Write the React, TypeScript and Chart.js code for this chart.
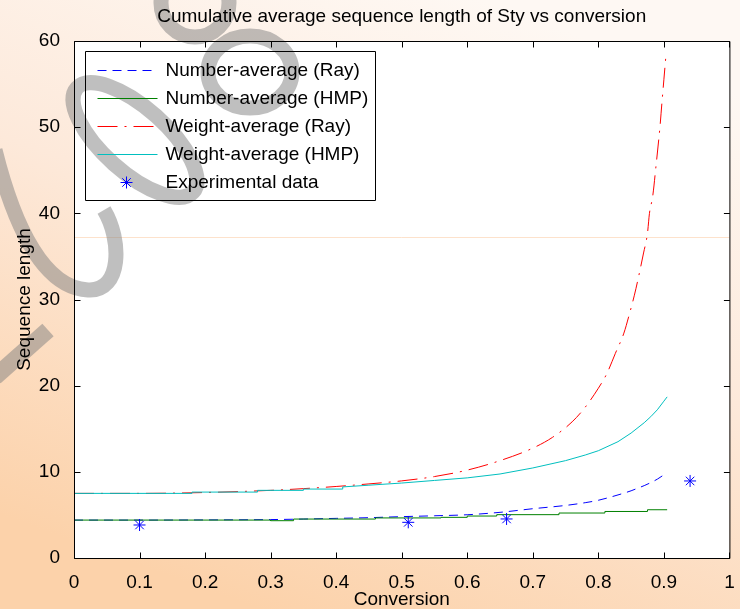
import React, { useEffect, useRef } from "react";
import { Chart, registerables } from "chart.js";

Chart.register(...registerables);

const FONT = "'Liberation Sans', Arial, Helvetica, sans-serif";
const FS = 19;

const chartTitle = "Cumulative average sequence length of Sty vs conversion";
const xAxisTitle = "Conversion";
const yAxisTitle = "Sequence length";

const xTicks = [0, 0.1, 0.2, 0.3, 0.4, 0.5, 0.6, 0.7, 0.8, 0.9, 1];
const xTickLabels = ["0", "0.1", "0.2", "0.3", "0.4", "0.5", "0.6", "0.7", "0.8", "0.9", "1"];
const yTicks = [0, 10, 20, 30, 40, 50, 60];
const yTickLabels = ["0", "10", "20", "30", "40", "50", "60"];

// Number-average (Ray)
const numRayX = [0, 0.1, 0.2, 0.3, 0.35, 0.4, 0.45, 0.5, 0.55, 0.6, 0.65, 0.7, 0.75, 0.78, 0.8, 0.82, 0.84, 0.85, 0.86, 0.87, 0.88, 0.89, 0.9, 0.905];
const numRayY = [4.4, 4.4, 4.42, 4.46, 4.52, 4.6, 4.68, 4.8, 4.9, 5.02, 5.3, 5.72, 6.1, 6.42, 6.7, 7.1, 7.55, 7.8, 8.1, 8.4, 8.75, 9.15, 9.65, 9.9];

// Number-average (HMP)
const numHmpX = [0, 0.3, 0.3, 0.335, 0.335, 0.46, 0.46, 0.56, 0.56, 0.6, 0.6, 0.645, 0.645, 0.74, 0.74, 0.81, 0.81, 0.875, 0.875, 0.905];
const numHmpY = [4.4, 4.4, 4.33, 4.33, 4.52, 4.52, 4.65, 4.65, 4.72, 4.72, 4.87, 4.87, 5.03, 5.03, 5.22, 5.22, 5.4, 5.4, 5.6, 5.6];

// Weight-average (Ray)
const wtRayX = [0, 0.1, 0.2, 0.3, 0.35, 0.4, 0.45, 0.5, 0.55, 0.6, 0.65, 0.7, 0.73, 0.76, 0.78, 0.8, 0.813, 0.826, 0.839, 0.847, 0.855, 0.861, 0.869, 0.875, 0.878, 0.883, 0.888, 0.891, 0.894, 0.897, 0.9, 0.902, 0.903];
const wtRayY = [7.5, 7.5, 7.6, 7.85, 8.05, 8.3, 8.6, 8.95, 9.45, 10.2, 11.3, 12.75, 14.0, 15.8, 17.5, 19.7, 21.4, 23.75, 26.1, 28.2, 30.5, 32.5, 35.4, 37.7, 40.0, 42.0, 45.5, 47.7, 50.0, 52.8, 55.5, 57.3, 58.2];

// Weight-average (HMP)
const wtHmpX = [0, 0.18, 0.18, 0.28, 0.28, 0.35, 0.35, 0.41, 0.41, 0.45, 0.5, 0.55, 0.6, 0.65, 0.7, 0.75, 0.78, 0.8, 0.83, 0.85, 0.87, 0.88, 0.89, 0.9, 0.905];
const wtHmpY = [7.5, 7.5, 7.65, 7.65, 7.85, 7.85, 8.0, 8.0, 8.25, 8.45, 8.7, 9.0, 9.3, 9.75, 10.45, 11.3, 11.95, 12.45, 13.5, 14.5, 15.7, 16.4, 17.2, 18.2, 18.7];

// Experimental data
const expX = [0.1, 0.51, 0.66, 0.94];
const expY = [3.83, 4.14, 4.53, 8.94];

// faint horizontal artefact line in the source picture
const artefactY = 37.3;

const pts = (xs: number[], ys: number[]) => xs.map((x, i) => ({ x, y: ys[i] }));

function drawWatermark(ctx: CanvasRenderingContext2D) {
  ctx.save();
  ctx.strokeStyle = "rgba(128,128,128,0.5)";
  ctx.lineWidth = 15;
  ctx.lineCap = "butt";
  ctx.beginPath();
  ctx.arc(195, 3, 34, 0, Math.PI * 2);
  ctx.stroke();
  ctx.beginPath();
  ctx.ellipse(250, 72, 42, 36, 0, 0, Math.PI * 2);
  ctx.stroke();
  ctx.beginPath();
  ctx.ellipse(135, 140, 78, 32, 0.73, 0, Math.PI * 2);
  ctx.stroke();
  ctx.beginPath();
  ctx.moveTo(-5, 150);
  ctx.bezierCurveTo(15, 230, 45, 288, 88, 290);
  ctx.bezierCurveTo(122, 292, 122, 240, 104, 210);
  ctx.stroke();
  ctx.lineWidth = 17;
  ctx.beginPath();
  ctx.moveTo(-5, 377);
  ctx.lineTo(48, 330);
  ctx.stroke();
  ctx.restore();
}

const framePlugin = {
  id: "matlabFrame",
  beforeDraw(chart: any) {
    const { ctx, width, height, chartArea: a } = chart;
    ctx.save();
    const g = ctx.createLinearGradient(width * 0.65, 0, width * 0.35, height);
    g.addColorStop(0, "#fef8f3");
    g.addColorStop(0.45, "#fde9da");
    g.addColorStop(1, "#fcd2aa");
    ctx.fillStyle = g;
    ctx.fillRect(0, 0, width, height);
    ctx.fillStyle = "#ffffff";
    ctx.fillRect(a.left, a.top, a.right - a.left, a.bottom - a.top);
    const yl = Math.round(chart.scales.y.getPixelForValue(artefactY)) + 0.5;
    ctx.strokeStyle = "#fde2cc";
    ctx.lineWidth = 1;
    ctx.beginPath();
    ctx.moveTo(a.left, yl);
    ctx.lineTo(a.right, yl);
    ctx.stroke();
    drawWatermark(ctx);
    ctx.restore();
  },
  afterDraw(chart: any) {
    const { ctx, chartArea: a } = chart;
    const xs = chart.scales.x;
    const ys = chart.scales.y;
    ctx.save();
    ctx.strokeStyle = "#000";
    ctx.lineWidth = 1;
    const L = a.left + 0.5, R = a.right + 0.5, T = a.top + 0.5, B = a.bottom + 0.5;
    ctx.beginPath();
    ctx.rect(L, T, R - L, B - T);
    const tl = 6;
    xTicks.forEach((v) => {
      const p = Math.round(xs.getPixelForValue(v)) + 0.5;
      ctx.moveTo(p, B);
      ctx.lineTo(p, B - tl);
      ctx.moveTo(p, T);
      ctx.lineTo(p, T + tl);
    });
    yTicks.forEach((v) => {
      const p = Math.round(ys.getPixelForValue(v)) + 0.5;
      ctx.moveTo(L, p);
      ctx.lineTo(L + tl, p);
      ctx.moveTo(R, p);
      ctx.lineTo(R - tl, p);
    });
    ctx.stroke();

    // legend box
    const bx = a.left + 11.5, by = a.top + 10.5, bw = 290, bh = 149;
    ctx.beginPath();
    ctx.rect(bx, by, bw, bh);
    ctx.stroke();
    ctx.font = `${FS}px ${FONT}`;
    ctx.textBaseline = "middle";
    ctx.textAlign = "left";
    chart.data.datasets.forEach((ds: any, i: number) => {
      const cy = Math.round(by + 18 + i * 28.2) + 0.5;
      ctx.save();
      ctx.strokeStyle = ds.borderColor;
      ctx.lineWidth = 1;
      if (ds.showLine === false) {
        const cx = bx + 41;
        const r = 6;
        ctx.beginPath();
        ctx.moveTo(cx - r, cy); ctx.lineTo(cx + r, cy);
        ctx.moveTo(cx, cy - r); ctx.lineTo(cx, cy + r);
        const d = r * Math.SQRT1_2;
        ctx.moveTo(cx - d, cy - d); ctx.lineTo(cx + d, cy + d);
        ctx.moveTo(cx - d, cy + d); ctx.lineTo(cx + d, cy - d);
        ctx.stroke();
      } else {
        ctx.setLineDash(ds.borderDash || []);
        ctx.beginPath();
        ctx.moveTo(bx + 12, cy);
        ctx.lineTo(bx + 72, cy);
        ctx.stroke();
      }
      ctx.restore();
      ctx.fillStyle = "#000";
      ctx.fillText(ds.label, bx + 80, cy);
    });
    ctx.restore();
  },
};

export default function App() {
  const ref = useRef<HTMLCanvasElement | null>(null);
  useEffect(() => {
    if (!ref.current) return;
    const font = { family: FONT, size: FS, weight: "normal" as const };
    const chart = new Chart(ref.current, {
      type: "line",
      data: {
        datasets: [
          {
            label: "Number-average (Ray)",
            data: pts(numRayX, numRayY),
            borderColor: "#0000ff",
            borderDash: [9, 6],
            borderWidth: 1,
            pointRadius: 0,
            cubicInterpolationMode: "monotone",
            order: 5,
          },
          {
            label: "Number-average (HMP)",
            data: pts(numHmpX, numHmpY),
            borderColor: "#008000",
            borderWidth: 1,
            pointRadius: 0,
            tension: 0,
            order: 4,
          },
          {
            label: "Weight-average (Ray)",
            data: pts(wtRayX, wtRayY),
            borderColor: "#ff0000",
            borderDash: [20, 7, 2, 7],
            borderWidth: 1,
            pointRadius: 0,
            cubicInterpolationMode: "monotone",
            order: 3,
          },
          {
            label: "Weight-average (HMP)",
            data: pts(wtHmpX, wtHmpY),
            borderColor: "#00bfbf",
            borderWidth: 1,
            pointRadius: 0,
            tension: 0,
            order: 2,
          },
          {
            label: "Experimental data",
            data: pts(expX, expY),
            borderColor: "#0000ff",
            backgroundColor: "#0000ff",
            showLine: false,
            pointStyle: "star",
            pointRadius: 6,
            pointBorderWidth: 1,
            order: 1,
          },
        ],
      },
      options: {
        animation: false,
        responsive: false,
        maintainAspectRatio: false,
        devicePixelRatio: 1,
        layout: { padding: { left: 0, right: 9, top: 0, bottom: 0 } },
        plugins: {
          legend: { display: false },
          tooltip: { enabled: false },
          title: {
            display: true,
            fullSize: false,
            text: chartTitle,
            color: "#000",
            font,
            padding: { top: 5.6, bottom: 12.6 },
          },
        },
        scales: {
          x: {
            type: "linear",
            position: "bottom",
            min: 0,
            max: 1,
            grid: { display: false },
            border: { display: false },
            ticks: {
              stepSize: 0.1,
              autoSkip: false,
              maxRotation: 0,
              padding: 5.3,
              color: "#000",
              font,
              callback: (v: any) => {
                const i = xTicks.findIndex((t) => Math.abs(t - Number(v)) < 1e-9);
                return i >= 0 ? xTickLabels[i] : "";
              },
            },
            title: { display: true, text: xAxisTitle, color: "#000", font, padding: { top: 0, bottom: -2.4 } },
            afterFit: (s: any) => {
              s.height = 51;
            },
          },
          y: {
            type: "linear",
            position: "left",
            min: 0,
            max: 60,
            grid: { display: false },
            border: { display: false },
            ticks: {
              stepSize: 10,
              padding: 6,
              color: "#000",
              font,
              callback: (v: any) => {
                const i = yTicks.findIndex((t) => Math.abs(t - Number(v)) < 1e-9);
                return i >= 0 ? yTickLabels[i] : "";
              },
            },
            title: { display: true, text: yAxisTitle, color: "#000", font, padding: { top: 13.6, bottom: 0 } },
            afterFit: (s: any) => {
              s.width = 74;
            },
          },
        },
      },
      plugins: [framePlugin],
    });
    return () => chart.destroy();
  }, []);
  return (
    <div style={{ position: "absolute", left: 0, top: 0, width: 740, height: 609 }}>
      <canvas ref={ref} width={740} height={609} style={{ display: "block", width: 740, height: 609 }} />
    </div>
  );
}
